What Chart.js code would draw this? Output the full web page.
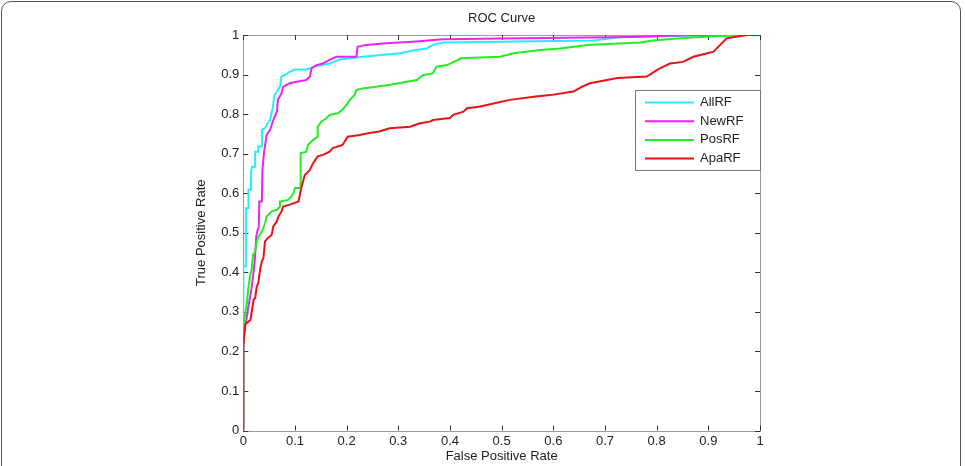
<!DOCTYPE html>
<html>
<head>
<meta charset="utf-8">
<script src="https://cdn.jsdelivr.net/npm/chart.js@4/dist/chart.umd.min.js"></script>
<style>
  html,body{margin:0;padding:0;background:#fff;}
  #wrap{position:relative;width:965px;height:466px;overflow:hidden;}
  #frame{position:absolute;left:1px;top:1px;width:960px;height:500px;border:1.5px solid #555;border-radius:10px;box-sizing:border-box;}
  #c{position:absolute;left:0;top:0;}
</style>
</head>
<body>
<div id="wrap">
  <div id="frame"></div>
  <canvas id="c" width="965" height="466"></canvas>
</div>
<script>
// ---- Data ----
const seriesNames = ['AllRF', 'NewRF', 'PosRF', 'ApaRF'];
const seriesColors = ['#22eeff', '#ee22ee', '#22ee22', '#ee1111'];

const allrfFPR = [0,0,0.004,0.005,0.01,0.01,0.015,0.015,0.017,0.023,0.023,0.029,0.029,0.035,0.036,0.042,0.048,0.052,0.055,0.057,0.06,0.065,0.071,0.074,0.081,0.09,0.1,0.122,0.138,0.167,0.187,0.231,0.304,0.333,0.355,0.367,0.387,0.677,0.73,0.948,1];
const allrfTPR = [0,0.415,0.415,0.562,0.562,0.609,0.609,0.654,0.667,0.667,0.705,0.705,0.718,0.718,0.76,0.765,0.778,0.785,0.806,0.815,0.848,0.857,0.87,0.895,0.899,0.907,0.913,0.913,0.92,0.928,0.938,0.945,0.954,0.962,0.966,0.975,0.981,0.986,0.995,1,1];

const newrfFPR = [0,0,0.006,0.009,0.016,0.02,0.022,0.024,0.025,0.028,0.03,0.031,0.036,0.037,0.04,0.045,0.052,0.058,0.065,0.067,0.074,0.077,0.09,0.103,0.122,0.129,0.132,0.142,0.154,0.167,0.18,0.219,0.221,0.238,0.276,0.328,0.387,0.5,0.75,0.866,1];
const newrfTPR = [0,0.25,0.28,0.306,0.36,0.402,0.428,0.465,0.49,0.508,0.516,0.579,0.579,0.659,0.701,0.747,0.76,0.785,0.806,0.836,0.853,0.869,0.878,0.882,0.886,0.895,0.916,0.924,0.928,0.937,0.945,0.945,0.97,0.975,0.979,0.983,0.989,0.991,0.995,1,1];

const posrfFPR = [0,0,0,0.003,0.007,0.01,0.013,0.016,0.019,0.023,0.026,0.029,0.036,0.042,0.045,0.055,0.065,0.071,0.071,0.087,0.093,0.097,0.1,0.11,0.111,0.122,0.125,0.135,0.144,0.144,0.151,0.161,0.167,0.183,0.192,0.202,0.206,0.215,0.219,0.231,0.257,0.284,0.317,0.336,0.348,0.367,0.374,0.394,0.416,0.42,0.497,0.523,0.575,0.614,0.666,0.768,0.793,0.845,0.904,0.962,1];
const posrfTPR = [0,0.21,0.263,0.289,0.323,0.364,0.39,0.407,0.444,0.453,0.478,0.49,0.503,0.524,0.541,0.554,0.558,0.566,0.579,0.583,0.592,0.6,0.613,0.613,0.701,0.705,0.722,0.735,0.743,0.768,0.781,0.79,0.798,0.802,0.811,0.827,0.836,0.848,0.861,0.865,0.869,0.874,0.882,0.886,0.899,0.903,0.92,0.924,0.937,0.941,0.945,0.954,0.962,0.966,0.975,0.981,0.986,0.992,0.996,1,1];

const aparfFPR = [0,0,0.004,0.007,0.014,0.017,0.02,0.023,0.026,0.029,0.033,0.036,0.039,0.042,0.048,0.055,0.058,0.065,0.068,0.074,0.077,0.09,0.107,0.11,0.113,0.119,0.129,0.135,0.144,0.154,0.167,0.173,0.192,0.202,0.225,0.244,0.263,0.283,0.323,0.342,0.361,0.367,0.4,0.406,0.426,0.433,0.459,0.484,0.516,0.562,0.594,0.639,0.655,0.671,0.724,0.781,0.801,0.813,0.826,0.851,0.871,0.898,0.91,0.923,0.936,0.975,1];
const aparfTPR = [0,0.213,0.268,0.272,0.28,0.306,0.331,0.335,0.364,0.373,0.411,0.428,0.436,0.478,0.487,0.495,0.516,0.529,0.541,0.554,0.566,0.571,0.579,0.6,0.617,0.646,0.659,0.676,0.693,0.697,0.705,0.714,0.722,0.743,0.747,0.752,0.756,0.764,0.768,0.777,0.781,0.785,0.79,0.798,0.806,0.815,0.819,0.827,0.836,0.844,0.848,0.857,0.869,0.878,0.891,0.895,0.912,0.92,0.928,0.932,0.945,0.954,0.958,0.975,0.992,1,1];

const xTickLabels = ['0','0.1','0.2','0.3','0.4','0.5','0.6','0.7','0.8','0.9','1'];
const yTickLabels = ['0','0.1','0.2','0.3','0.4','0.5','0.6','0.7','0.8','0.9','1'];
const chartTitle = 'ROC Curve';
const xTitle = 'False Positive Rate';
const yTitle = 'True Positive Rate';

// ---- Build ----
const FONT = '"Liberation Sans", Arial, sans-serif';
const xs = [allrfFPR, newrfFPR, posrfFPR, aparfFPR];
const ys = [allrfTPR, newrfTPR, posrfTPR, aparfTPR];
const datasets = seriesNames.map((name, i) => ({
  label: name,
  data: xs[i].map((x, j) => ({x: x, y: ys[i][j]})),
  borderColor: seriesColors[i],
  backgroundColor: seriesColors[i],
  borderWidth: 2,
  pointRadius: 0,
  showLine: true,
  tension: 0,
  fill: false,
  order: 4 - i
}));

const matlabBox = {
  id: 'matlabBox',
  beforeDatasetsDraw(chart) {
    const {ctx, chartArea: a, scales} = chart;
    ctx.save();
    ctx.strokeStyle = '#9a9a9a';
    ctx.lineWidth = 1;
    ctx.strokeRect(Math.round(a.left) + 0.5, Math.round(a.top) + 0.5, Math.round(a.right - a.left), Math.round(a.bottom - a.top));
    ctx.strokeStyle = '#333';
    ctx.beginPath();
    scales.x.ticks.forEach(t => {
      const px = Math.round(scales.x.getPixelForValue(t.value)) + 0.5;
      ctx.moveTo(px, a.bottom); ctx.lineTo(px, a.bottom - 5);
      ctx.moveTo(px, a.top); ctx.lineTo(px, a.top + 5);
    });
    scales.y.ticks.forEach(t => {
      const py = Math.round(scales.y.getPixelForValue(t.value)) + 0.5;
      ctx.moveTo(a.left, py); ctx.lineTo(a.left + 5, py);
      ctx.moveTo(a.right, py); ctx.lineTo(a.right - 5, py);
    });
    ctx.stroke();
    // title
    ctx.fillStyle = '#222';
    ctx.font = '13px ' + FONT;
    ctx.textAlign = 'center';
    ctx.textBaseline = 'middle';
    ctx.fillText(chartTitle, (a.left + a.right) / 2, 18);
    ctx.restore();
  },
  afterDatasetsDraw(chart) {
    const {ctx, chartArea: a} = chart;
    const right = Math.round(a.right) + 0.5;
    const left = 635.5, top = 90.5, bottom = 170.5;
    ctx.save();
    ctx.fillStyle = '#fff';
    ctx.fillRect(left, top, right - left, bottom - top);
    ctx.strokeStyle = '#777';
    ctx.lineWidth = 1;
    ctx.strokeRect(left, top, right - left, bottom - top);
    ctx.font = '13px ' + FONT;
    ctx.textAlign = 'left';
    ctx.textBaseline = 'middle';
    chart.data.datasets.forEach((ds, i) => {
      const y = 102.5 + i * 18.7;
      ctx.strokeStyle = ds.borderColor;
      ctx.lineWidth = 2;
      ctx.beginPath();
      ctx.moveTo(645, y); ctx.lineTo(694, y);
      ctx.stroke();
      ctx.fillStyle = '#222';
      ctx.fillText(ds.label, 700, y);
    });
    ctx.restore();
  }
};

new Chart(document.getElementById('c'), {
  type: 'scatter',
  data: { datasets },
  plugins: [matlabBox],
  options: {
    responsive: false,
    animation: false,
    events: [],
    layout: { padding: { left: 190, right: 205, top: 35, bottom: 0 } },
    plugins: { legend: { display: false }, title: { display: false }, tooltip: { enabled: false } },
    scales: {
      x: {
        type: 'linear', min: 0, max: 1,
        afterFit(s) { s.height = 35.5; },
        border: { display: false },
        grid: { display: true, drawOnChartArea: false, drawTicks: false, color: 'rgba(0,0,0,0)' },
        ticks: {
          stepSize: 0.1, autoSkip: false, maxRotation: 0, padding: 3,
          color: '#222', font: { size: 13, family: FONT },
          callback: (v, i) => xTickLabels[i]
        },
        title: { display: true, text: xTitle, color: '#222', font: { size: 13, family: FONT }, padding: { top: 0, bottom: 1.5 } }
      },
      y: {
        type: 'linear', min: 0, max: 1,
        afterFit(s) { s.width = 53.3; },
        border: { display: false },
        grid: { display: true, drawOnChartArea: false, drawTicks: false, color: 'rgba(0,0,0,0)' },
        ticks: {
          stepSize: 0.1, autoSkip: false, padding: 4,
          color: '#222', font: { size: 13, family: FONT },
          callback: (v, i) => yTickLabels[i]
        },
        title: { display: true, text: yTitle, color: '#222', font: { size: 13, family: FONT }, padding: { top: 4, bottom: 0 } }
      }
    }
  }
});
</script>
</body>
</html>
